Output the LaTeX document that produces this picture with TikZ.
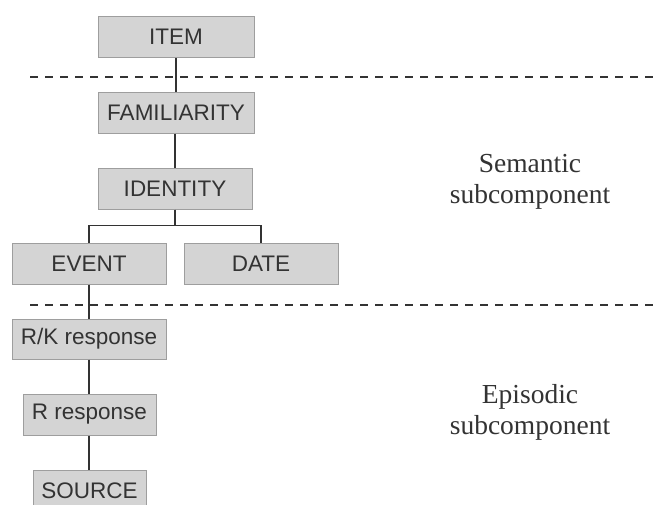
\documentclass[tikz,border=0pt]{standalone}
\usepackage{fontspec}
\setmainfont{Liberation Serif}
\newfontfamily\boxfont{Liberation Sans}
\definecolor{boxgray}{rgb}{0.83, 0.83, 0.83}
\definecolor{edgegray}{rgb}{0.62, 0.62, 0.62}
\definecolor{inkgray}{rgb}{0.2, 0.2, 0.2}
\tikzset{
	stage/.style={draw=edgegray, fill=boxgray, line width=1pt, inner sep=0pt, minimum height=41pt, text=inkgray, font=\boxfont\fontsize{22.5}{25}\selectfont},
	link/.style={draw=inkgray, line width=1.3pt},
	divider/.style={draw=inkgray, line width=1.3pt, dash pattern=on 7.5pt off 7.5pt},
	sidelabel/.style={align=center, text=inkgray, font=\fontsize{27.5}{31}\selectfont}
}

\begin{document}
\begin{tikzpicture}[x=1pt,y=1pt,yscale=-1,xscale=1]
		% Fix the frame of the picture
		\useasboundingbox (0,0) rectangle (659,504);

		% The boxes of the semantic part
		\node[stage, minimum width=156pt] (item) at (176,37) {ITEM};
		\node[stage, minimum width=156pt] (familiarity) at (176,112.5) {FAMILIARITY};
		\node[stage, minimum width=154pt] (identity) at (175,188.5) {IDENTITY};
		\node[stage, minimum width=154pt] (event) at (89,263.5) {EVENT};
		\node[stage, minimum width=154pt] (date) at (261,263.5) {DATE};

		% The boxes of the episodic part
		\node[stage, minimum width=154pt, minimum height=40pt] (rk) at (89,339) {R/K response};
		\node[stage, minimum width=133pt] (rresp) at (89.5,414.5) {R response};
		\node[stage, minimum width=113pt] (source) at (89.5,490.5) {SOURCE};

		% The dashed lines between the parts
		\draw[divider] (30,77) -- (656,77);
		\draw[divider] (30,305) -- (656,305);

		% The links down the chain
		\draw[link] (item) -- (familiarity);
		\draw[link] (familiarity.south -| identity) -- (identity);
		\draw[link] (identity.south) -- ++(0,16) -| (event.north);
		\draw[link] (identity.south) -- ++(0,16) -| (date.north);
		\draw[link] (event) -- (rk);
		\draw[link] (rk.south) -- (rresp.north -| rk.south);
		\draw[link] (rresp.south -| rk.south) -- (source.north -| rk.south);

		% The names of the two parts
		\node[sidelabel] (semantic) at (530,182) {Semantic\\subcomponent};
		\node[sidelabel] (episodic) at (530,412) {Episodic\\subcomponent};
	\end{tikzpicture}
\end{document}
